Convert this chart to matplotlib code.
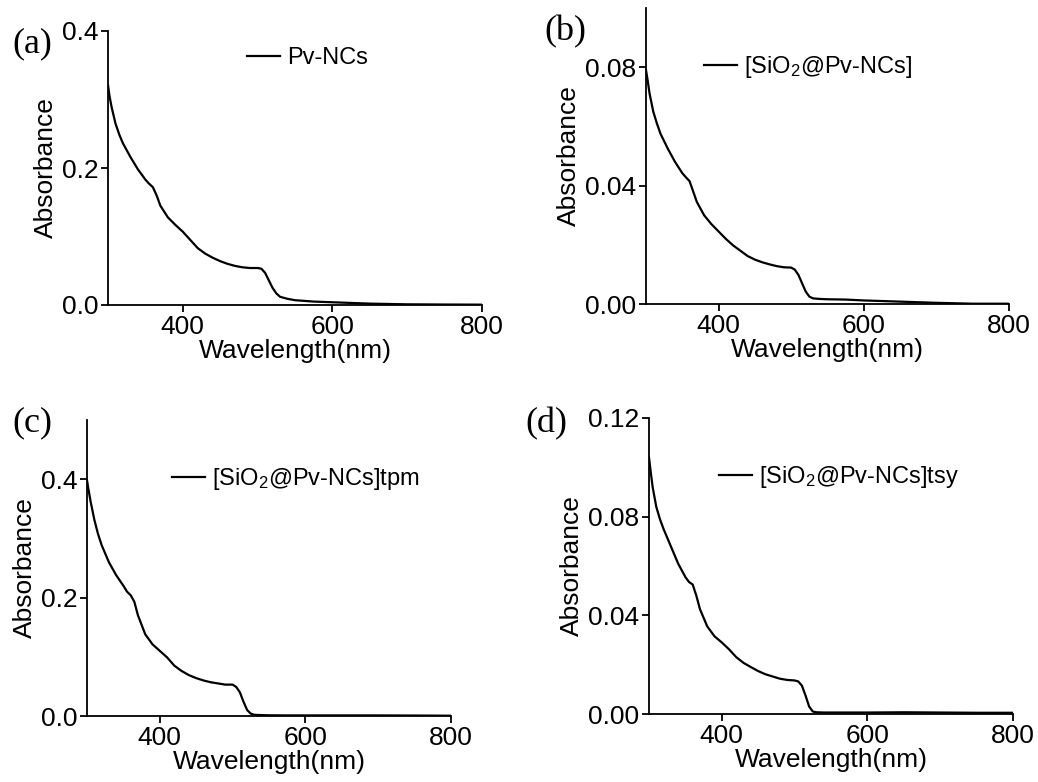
import numpy as np
import matplotlib
matplotlib.use('Agg')
from matplotlib import pyplot as plt
from matplotlib.ticker import FormatStrFormatter

plt.rcParams['font.family'] = ['Liberation Sans', 'DejaVu Sans']
plt.rcParams['mathtext.fontset'] = 'custom'
plt.rcParams['mathtext.rm'] = 'Liberation Sans'
plt.rcParams['mathtext.it'] = 'Liberation Sans'

# wavelength grid (nm)
wl = [300, 302, 305, 310, 315, 320, 330, 340, 350, 355, 360, 365, 370, 380, 390, 400,
      410, 420, 430, 440, 450, 460, 470, 480, 490, 500, 505, 510, 515, 520,
      525, 530, 540, 550, 575, 600, 650, 700, 750, 800]

# (a) Pv-NCs
abs_a = [0.321, 0.305, 0.288, 0.265, 0.249, 0.236, 0.216, 0.198, 0.183, 0.177, 0.172, 0.160,
         0.145, 0.128, 0.117, 0.107, 0.095, 0.083, 0.075, 0.069, 0.064, 0.060,
         0.057, 0.055, 0.054, 0.054, 0.053, 0.047, 0.036, 0.025, 0.017, 0.012,
         0.009, 0.007, 0.005, 0.004, 0.002, 0.001, 0.0007, 0.0005]
# (b) [SiO2@Pv-NCs]
abs_b = [0.079, 0.076, 0.071, 0.065, 0.061, 0.0575, 0.0525, 0.048, 0.0442, 0.0428, 0.0415, 0.038,
         0.0345, 0.0300, 0.0270, 0.0245, 0.0220, 0.0198, 0.0180, 0.0162, 0.0150, 0.0141,
         0.0134, 0.0128, 0.0124, 0.0123, 0.0116, 0.0098, 0.0070, 0.0042, 0.0025, 0.0019,
         0.0017, 0.0016, 0.0015, 0.0012, 0.0008, 0.0004, 0.0001, 0.0001]
# (c) [SiO2@Pv-NCs]tpm
abs_c = [0.398, 0.383, 0.362, 0.332, 0.308, 0.289, 0.260, 0.238, 0.220, 0.210, 0.204, 0.193,
         0.170, 0.138, 0.121, 0.110, 0.099, 0.085, 0.076, 0.069, 0.064, 0.060,
         0.057, 0.055, 0.053, 0.053, 0.049, 0.040, 0.024, 0.010, 0.004, 0.002,
         0.0015, 0.0012, 0.001, 0.001, 0.001, 0.001, 0.0008, 0.0005]
# (d) [SiO2@Pv-NCs]tsy
abs_d = [0.104, 0.099, 0.092, 0.084, 0.079, 0.075, 0.068, 0.061, 0.0555, 0.0535, 0.0525, 0.048,
         0.0425, 0.0355, 0.0315, 0.0290, 0.0262, 0.0230, 0.0207, 0.0190, 0.0174, 0.0161,
         0.0152, 0.0143, 0.0138, 0.0136, 0.0132, 0.0115, 0.0075, 0.0030, 0.0010, 0.0007,
         0.0006, 0.0006, 0.0006, 0.0006, 0.0007, 0.0006, 0.0005, 0.0005]

names = ['Pv-NCs', r'[SiO$_2$@Pv-NCs]', r'[SiO$_2$@Pv-NCs]tpm', r'[SiO$_2$@Pv-NCs]tsy']
tags = ['(a)', '(b)', '(c)', '(d)']
series = [abs_a, abs_b, abs_c, abs_d]
ylims = [0.4, 0.1, 0.5, 0.12]
yticks = [[0, 0.2, 0.4], [0, 0.04, 0.08], [0, 0.2, 0.4], [0, 0.04, 0.08, 0.12]]
yfmt = ['%.1f', '%.2f', '%.1f', '%.2f']

W, H = 1038, 782
# axes boxes in pixels: left, right, top, bottom
boxes = [(108, 482, 31, 305), (646, 1009, 8, 304), (87, 451, 420, 716), (649, 1013, 418, 714)]
leg_pos = [(0.372, 0.901), (0.160, 0.801), (0.2335, 0.801), (0.192, 0.800)]
tag_pos = [(12, 44), (544, 32), (12, 423), (525, 424)]

fig = plt.figure(figsize=(W / 100, H / 100), dpi=100)

for i in range(4):
    l, r, t, b = boxes[i]
    ax = fig.add_axes([l / W, 1 - b / H, (r - l) / W, (b - t) / H])
    ax.plot(wl, series[i], color='black', linewidth=1.6, label=names[i])
    ax.set_xlim(300, 800)
    ax.set_ylim(0, ylims[i])
    ax.set_xticks([400, 600, 800])
    ax.set_yticks(yticks[i])
    ax.yaxis.set_major_formatter(FormatStrFormatter(yfmt[i]))
    for s in ['top', 'right']:
        ax.spines[s].set_visible(False)
    for s in ['left', 'bottom']:
        ax.spines[s].set_linewidth(1.3)
    ax.tick_params(direction='out', length=5, width=1.3, labelsize=19, pad=2)
    ax.set_xlabel('Wavelength(nm)', fontsize=19, labelpad=0)
    ax.set_ylabel('Absorbance', fontsize=19, labelpad=3)
    ax.legend(loc='center left', bbox_to_anchor=leg_pos[i], frameon=False,
              fontsize=17, handlelength=1.4, handletextpad=0.3,
              borderpad=0, borderaxespad=0)
    fig.text(tag_pos[i][0] / W, 1 - tag_pos[i][1] / H, tags[i], fontsize=26,
             family='Liberation Serif', ha='left', va='center')

plt.savefig('out.png', dpi=100)
